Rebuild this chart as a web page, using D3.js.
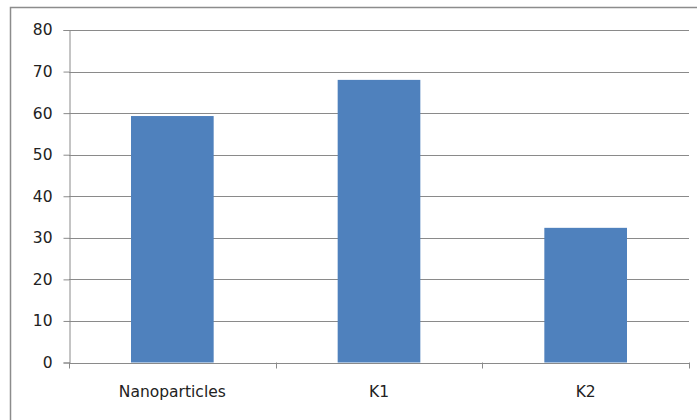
<!DOCTYPE html>
<html><head><meta charset="utf-8">
<script src="https://cdn.jsdelivr.net/npm/d3@7"></script>
<style>body{margin:0;background:#fff}svg{display:block}</style>
</head><body>
<svg id="c" width="697" height="420"></svg>
<script>
const categories = ["Nanoparticles", "K1", "K2"];
const values = [59.3, 68.0, 32.4];
const yTicks = [0, 10, 20, 30, 40, 50, 60, 70, 80];

const svg = d3.select("#c");
const m = {left: 69, right: 689, top: 30, bottom: 362.5};
const font = "'DejaVu Sans', Verdana, sans-serif";

svg.append("rect").attr("x", 10.5).attr("y", 7.5).attr("width", 700).attr("height", 420)
  .attr("fill", "#fff").attr("stroke", "#8c8c8c").attr("stroke-width", 1.5);

const x = d3.scaleBand().domain(categories).range([m.left, m.right]).paddingInner(0.6).paddingOuter(0.3);
const y = d3.scaleLinear().domain([0, 80]).range([m.bottom, m.top]);

// gridlines
svg.append("g").selectAll("line").data(yTicks.filter(d => d > 0)).join("line")
  .attr("x1", m.left).attr("x2", m.right)
  .attr("y1", d => Math.round(y(d)) + 0.5).attr("y2", d => Math.round(y(d)) + 0.5)
  .attr("stroke", "#8a8a8a").attr("stroke-width", 1);

// bars
svg.append("g").selectAll("rect").data(categories).join("rect")
  .attr("x", d => x(d)).attr("width", x.bandwidth())
  .attr("y", (d, i) => y(values[i])).attr("height", (d, i) => y(0) - y(values[i]))
  .attr("fill", "#4f81bd");

// y axis
const ya = svg.append("g").attr("transform", `translate(${m.left + 0.5},0)`)
  .call(d3.axisLeft(y).tickValues(yTicks).tickSize(6).tickPadding(11));
ya.select(".domain").attr("stroke", "#8a8a8a");
ya.selectAll(".tick line").attr("stroke", "#8a8a8a");
ya.selectAll(".tick text").attr("font-family", font).attr("font-size", 15.5).attr("fill", "#222");

// x axis
const xa = svg.append("g").attr("transform", `translate(0,${m.bottom + 0.5})`)
  .call(d3.axisBottom(x).tickSize(0).tickPadding(23));
xa.select(".domain").attr("stroke", "#8a8a8a");
xa.selectAll(".tick text").attr("font-family", font).attr("font-size", 15.5).attr("fill", "#222");
// category boundary ticks
const bounds = [0, 1, 2, 3].map(i => m.left + i * x.step());
svg.append("g").selectAll("line").data(bounds).join("line")
  .attr("x1", d => Math.round(d) + 0.5).attr("x2", d => Math.round(d) + 0.5)
  .attr("y1", m.bottom).attr("y2", m.bottom + 6)
  .attr("stroke", "#8a8a8a");
</script>
</body></html>
